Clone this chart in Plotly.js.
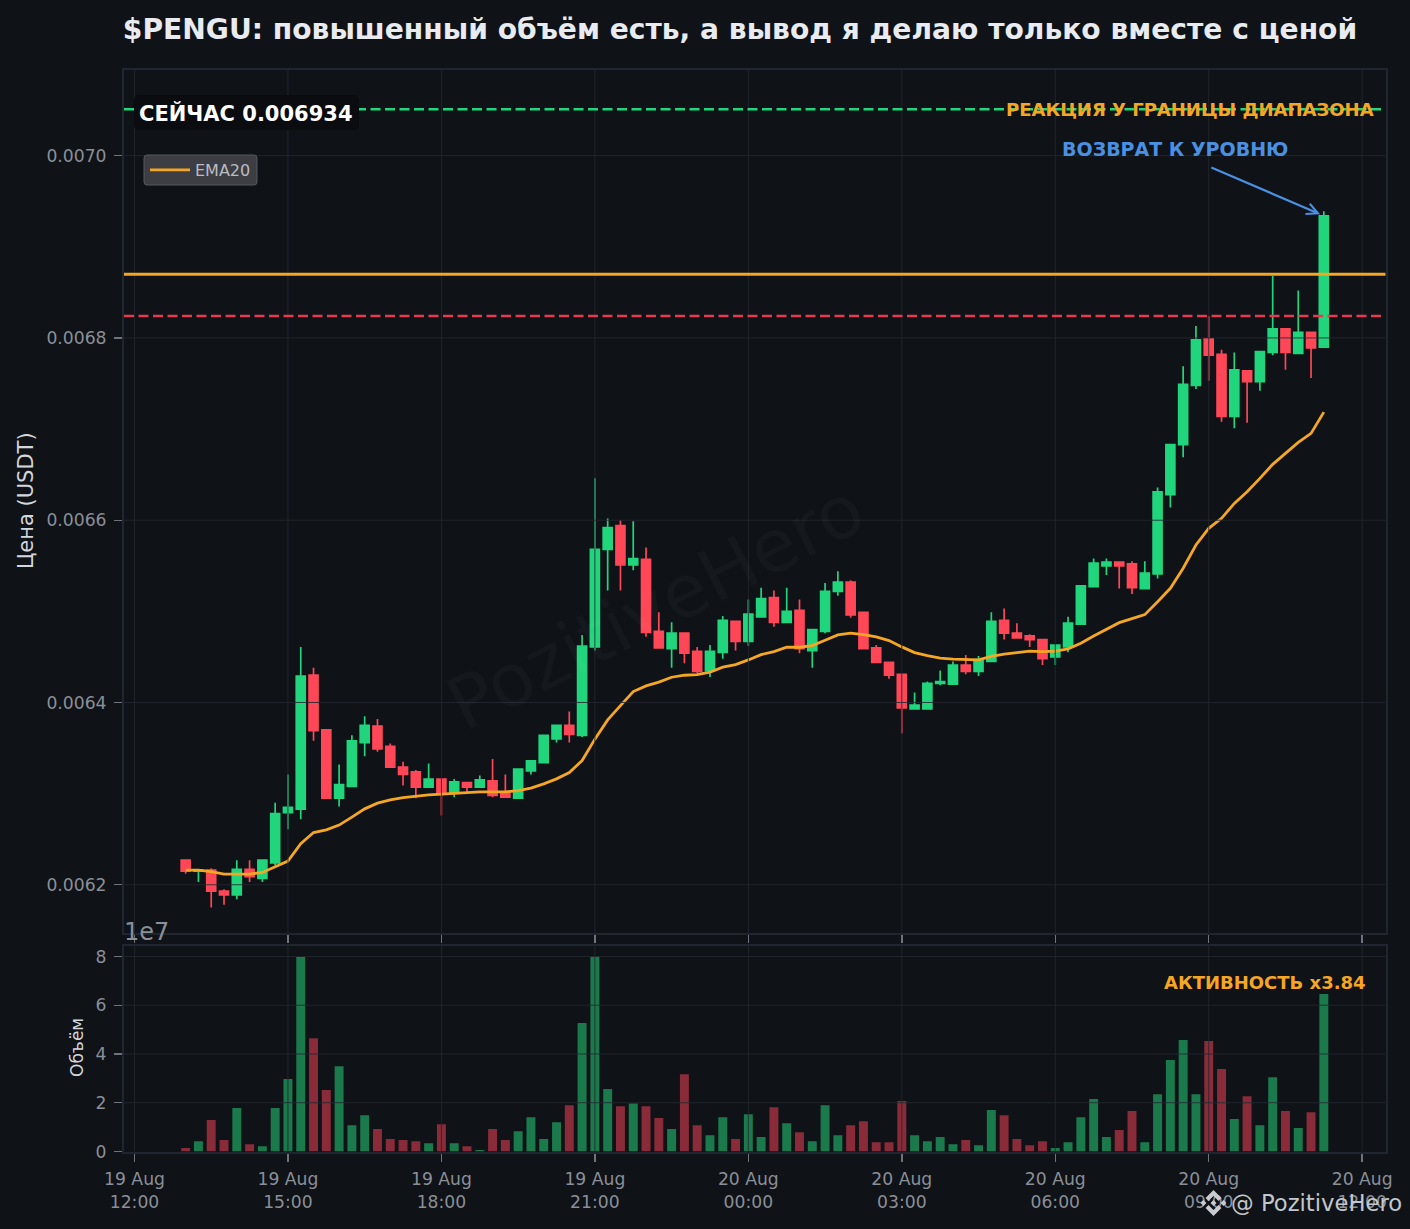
<!DOCTYPE html>
<html>
<head>
<meta charset="utf-8">
<script src="https://cdn.plot.ly/plotly-3.0.1.min.js"></script>
<style>html,body{margin:0;padding:0;background:#0f1217}#chart{width:1410px;height:1229px}</style>
</head>
<body>
<div id="chart"></div>
<script>
const times = ['2025-08-19 13:00','2025-08-19 13:15','2025-08-19 13:30','2025-08-19 13:45','2025-08-19 14:00','2025-08-19 14:15','2025-08-19 14:30','2025-08-19 14:45','2025-08-19 15:00','2025-08-19 15:15','2025-08-19 15:30','2025-08-19 15:45','2025-08-19 16:00','2025-08-19 16:15','2025-08-19 16:30','2025-08-19 16:45','2025-08-19 17:00','2025-08-19 17:15','2025-08-19 17:30','2025-08-19 17:45','2025-08-19 18:00','2025-08-19 18:15','2025-08-19 18:30','2025-08-19 18:45','2025-08-19 19:00','2025-08-19 19:15','2025-08-19 19:30','2025-08-19 19:45','2025-08-19 20:00','2025-08-19 20:15','2025-08-19 20:30','2025-08-19 20:45','2025-08-19 21:00','2025-08-19 21:15','2025-08-19 21:30','2025-08-19 21:45','2025-08-19 22:00','2025-08-19 22:15','2025-08-19 22:30','2025-08-19 22:45','2025-08-19 23:00','2025-08-19 23:15','2025-08-19 23:30','2025-08-19 23:45','2025-08-20 00:00','2025-08-20 00:15','2025-08-20 00:30','2025-08-20 00:45','2025-08-20 01:00','2025-08-20 01:15','2025-08-20 01:30','2025-08-20 01:45','2025-08-20 02:00','2025-08-20 02:15','2025-08-20 02:30','2025-08-20 02:45','2025-08-20 03:00','2025-08-20 03:15','2025-08-20 03:30','2025-08-20 03:45','2025-08-20 04:00','2025-08-20 04:15','2025-08-20 04:30','2025-08-20 04:45','2025-08-20 05:00','2025-08-20 05:15','2025-08-20 05:30','2025-08-20 05:45','2025-08-20 06:00','2025-08-20 06:15','2025-08-20 06:30','2025-08-20 06:45','2025-08-20 07:00','2025-08-20 07:15','2025-08-20 07:30','2025-08-20 07:45','2025-08-20 08:00','2025-08-20 08:15','2025-08-20 08:30','2025-08-20 08:45','2025-08-20 09:00','2025-08-20 09:15','2025-08-20 09:30','2025-08-20 09:45','2025-08-20 10:00','2025-08-20 10:15','2025-08-20 10:30','2025-08-20 10:45','2025-08-20 11:00','2025-08-20 11:15'];

const opens = [0.006227,0.006215,0.006216,0.006193,0.006189,0.006217,0.006207,0.006224,0.006279,0.006283,
0.006430,0.006370,0.006295,0.006308,0.006356,0.006374,0.006352,0.006329,0.006324,0.006307,
0.006316,0.006301,0.006312,0.006307,0.006314,0.006301,0.006295,0.006325,0.006334,0.006360,
0.006375,0.006364,0.006461,0.006568,0.006594,0.006551,0.006557,0.006478,0.006459,0.006476,
0.006456,0.006435,0.006455,0.006489,0.006467,0.006494,0.006515,0.006488,0.006501,0.006457,
0.006478,0.006522,0.006532,0.006499,0.006460,0.006444,0.006431,0.006393,0.006393,0.006421,
0.006420,0.006441,0.006434,0.006445,0.006490,0.006476,0.006473,0.006469,0.006450,0.006461,
0.006486,0.006527,0.006550,0.006554,0.006552,0.006525,0.006541,0.006628,0.006683,0.006748,
0.006799,0.006782,0.006714,0.006764,0.006752,0.006784,0.006810,0.006783,0.006806,0.006790];

const highs = [0.006227,0.006216,0.006218,0.006195,0.006227,0.006227,0.006227,0.006290,0.006321,0.006461,
0.006438,0.006370,0.006332,0.006364,0.006385,0.006382,0.006355,0.006335,0.006326,0.006333,
0.006316,0.006316,0.006312,0.006320,0.006338,0.006321,0.006327,0.006337,0.006364,0.006375,
0.006390,0.006474,0.006646,0.006602,0.006600,0.006599,0.006570,0.006499,0.006488,0.006477,
0.006461,0.006463,0.006495,0.006489,0.006513,0.006526,0.006523,0.006526,0.006513,0.006480,
0.006531,0.006544,0.006534,0.006499,0.006463,0.006444,0.006431,0.006411,0.006423,0.006435,
0.006445,0.006452,0.006451,0.006499,0.006503,0.006487,0.006475,0.006469,0.006463,0.006494,
0.006528,0.006558,0.006558,0.006554,0.006555,0.006555,0.006636,0.006684,0.006769,0.006813,
0.006824,0.006787,0.006784,0.006764,0.006786,0.006868,0.006810,0.006852,0.006807,0.006939];

const lows = [0.006212,0.006203,0.006175,0.006178,0.006184,0.006203,0.006203,0.006221,0.006261,0.006272,
0.006358,0.006295,0.006286,0.006308,0.006341,0.006346,0.006329,0.006309,0.006295,0.006307,
0.006276,0.006296,0.006302,0.006307,0.006296,0.006296,0.006295,0.006321,0.006334,0.006356,
0.006356,0.006362,0.006457,0.006523,0.006523,0.006545,0.006472,0.006460,0.006438,0.006443,
0.006432,0.006428,0.006448,0.006457,0.006462,0.006493,0.006483,0.006488,0.006454,0.006438,
0.006476,0.006517,0.006493,0.006459,0.006444,0.006426,0.006366,0.006392,0.006393,0.006419,
0.006420,0.006431,0.006429,0.006445,0.006469,0.006471,0.006461,0.006441,0.006441,0.006455,
0.006486,0.006527,0.006540,0.006525,0.006519,0.006524,0.006536,0.006614,0.006669,0.006744,
0.006753,0.006708,0.006701,0.006707,0.006742,0.006781,0.006765,0.006782,0.006756,0.006790];

const closes = [0.006215,0.006216,0.006193,0.006189,0.006217,0.006209,0.006227,0.006278,0.006285,0.006429,
0.006369,0.006295,0.006310,0.006358,0.006375,0.006349,0.006329,0.006321,0.006307,0.006316,
0.006301,0.006313,0.006307,0.006315,0.006298,0.006296,0.006327,0.006336,0.006364,0.006375,
0.006365,0.006462,0.006568,0.006592,0.006551,0.006558,0.006477,0.006460,0.006476,0.006454,
0.006434,0.006456,0.006490,0.006467,0.006497,0.006514,0.006488,0.006500,0.006459,0.006480,
0.006522,0.006532,0.006496,0.006459,0.006444,0.006430,0.006394,0.006397,0.006421,0.006423,
0.006441,0.006434,0.006447,0.006489,0.006476,0.006471,0.006469,0.006448,0.006463,0.006487,
0.006528,0.006553,0.006554,0.006550,0.006526,0.006542,0.006631,0.006683,0.006749,0.006798,
0.006781,0.006714,0.006765,0.006752,0.006785,0.006810,0.006784,0.006806,0.006789,0.006934];

const ema20 = [0.0062161,0.0062161,0.0062143,0.0062117,0.0062117,0.0062117,0.0062135,0.0062201,0.0062260,0.0062450,
0.0062573,0.0062603,0.0062655,0.0062742,0.0062833,0.0062896,0.0062932,0.0062957,0.0062973,0.0062987,
0.0062995,0.0063005,0.0063012,0.0063020,0.0063020,0.0063020,0.0063034,0.0063060,0.0063107,0.0063162,
0.0063231,0.0063363,0.0063598,0.0063809,0.0063966,0.0064120,0.0064182,0.0064223,0.0064277,0.0064299,
0.0064306,0.0064332,0.0064387,0.0064416,0.0064467,0.0064525,0.0064558,0.0064606,0.0064606,0.0064624,
0.0064683,0.0064741,0.0064760,0.0064745,0.0064719,0.0064679,0.0064610,0.0064547,0.0064514,0.0064486,
0.0064475,0.0064467,0.0064467,0.0064506,0.0064531,0.0064547,0.0064563,0.0064558,0.0064563,0.0064588,
0.0064650,0.0064730,0.0064804,0.0064876,0.0064920,0.0064964,0.0065106,0.0065253,0.0065473,0.0065728,
0.0065911,0.0066021,0.0066185,0.0066313,0.0066459,0.0066613,0.0066734,0.0066854,0.0066953,0.0067186];

// volume, in units of 1e7
const volumes = [0.14,0.42,1.29,0.47,1.78,0.30,0.22,1.78,2.97,7.98,
4.65,2.52,3.50,1.08,1.49,0.92,0.51,0.47,0.42,0.34,
1.12,0.34,0.22,0.06,0.92,0.47,0.83,1.41,0.51,1.20,
1.90,5.27,8.00,2.56,1.86,1.97,1.86,1.37,0.92,3.17,
1.08,0.67,1.41,0.51,1.53,0.59,1.82,1.16,0.79,0.42,
1.90,0.67,1.08,1.24,0.38,0.38,2.07,0.67,0.42,0.59,
0.30,0.47,0.26,1.70,1.49,0.51,0.26,0.42,0.14,0.38,
1.41,2.15,0.59,0.88,1.66,0.38,2.35,3.75,4.57,2.35,
4.53,3.38,1.33,2.27,1.08,3.05,1.66,0.96,1.61,6.46];

const levelResistance = 0.00687;
const levelSupport = 0.006824;
const levelTarget = 0.007051;

const xTickVals = ['2025-08-19 12:00','2025-08-19 15:00','2025-08-19 18:00','2025-08-19 21:00','2025-08-20 00:00','2025-08-20 03:00','2025-08-20 06:00','2025-08-20 09:00','2025-08-20 12:00'];
const xTickText = ['19 Aug<br>12:00','19 Aug<br>15:00','19 Aug<br>18:00','19 Aug<br>21:00','20 Aug<br>00:00','20 Aug<br>03:00','20 Aug<br>06:00','20 Aug<br>09:00','20 Aug<br>12:00'];
const priceTicks = [0.0062,0.0064,0.0066,0.0068,0.0070];
const priceTickText = ['0.0062','0.0064','0.0066','0.0068','0.0070'];
const volumeTicks = [0,2,4,6,8];

const W = 1410, H = 1229;
const px = v => v / W, py = v => 1 - v / H;
const BG = '#0f1217', GREEN = '#21d57c', RED = '#ff4757', ORANGE = '#f5a623', BLUE = '#4a90e2';
const TICK = '#8a8f98', FRAME = '#20262f', FONT = 'DejaVu Sans';
const GRID = 'rgba(36,40,48,0.85)';

const candle = {
  type: 'candlestick', x: times, open: opens, high: highs, low: lows, close: closes,
  xaxis: 'x', yaxis: 'y', showlegend: false, whiskerwidth: 0,
  increasing: {line: {color: GREEN, width: 1.7}, fillcolor: GREEN},
  decreasing: {line: {color: RED, width: 1.7}, fillcolor: RED}
};
const ema = {
  type: 'scatter', mode: 'lines', x: times, y: ema20, name: 'EMA20',
  xaxis: 'x', yaxis: 'y', line: {color: ORANGE, width: 2.8}
};
const volBars = {
  type: 'bar', x: times, y: volumes, xaxis: 'x2', yaxis: 'y2', showlegend: false,
  width: 630000,
  marker: {color: closes.map((c, i) => c >= opens[i] ? '#1b7a4b' : '#892b38'), line: {width: 0}}
};

const gridShapes = [];
xTickVals.forEach(v => {
  gridShapes.push({type:'line', layer:'above', xref:'x', yref:'y domain', x0:v, x1:v, y0:0, y1:1, line:{color:GRID, width:1}});
  gridShapes.push({type:'line', layer:'above', xref:'x2', yref:'y2 domain', x0:v, x1:v, y0:0, y1:1, line:{color:GRID, width:1}});
});
priceTicks.forEach(v => gridShapes.push({type:'line', layer:'above', xref:'x domain', yref:'y', x0:0, x1:1, y0:v, y1:v, line:{color:GRID, width:1}}));
volumeTicks.slice(1).forEach(v => gridShapes.push({type:'line', layer:'above', xref:'x2 domain', yref:'y2', x0:0, x1:1, y0:v, y1:v, line:{color:GRID, width:1}}));

const levelShapes = [
  {type:'line', layer:'above', xref:'x domain', yref:'y', x0:0, x1:1, y0:levelResistance, y1:levelResistance, line:{color:ORANGE, width:3}},
  {type:'line', layer:'above', xref:'x domain', yref:'y', x0:0, x1:1, y0:levelSupport, y1:levelSupport, line:{color:'#e8394d', width:2.4, dash:'10px,4.5px'}},
  {type:'line', layer:'above', xref:'x domain', yref:'y', x0:0, x1:1, y0:levelTarget, y1:levelTarget, line:{color:GREEN, width:2.4, dash:'10px,4.5px'}}
];

// rounded panel behind a label or the legend, in page pixels
const roundBox = (x0, y0, x1, y1, r, fill, stroke) => ({
  type:'path', layer:'above', xref:'paper', yref:'paper',
  path:`M${px(x0+r)},${py(y0)} L${px(x1-r)},${py(y0)} Q${px(x1)},${py(y0)} ${px(x1)},${py(y0+r)} L${px(x1)},${py(y1-r)} Q${px(x1)},${py(y1)} ${px(x1-r)},${py(y1)} L${px(x0+r)},${py(y1)} Q${px(x0)},${py(y1)} ${px(x0)},${py(y1-r)} L${px(x0)},${py(y0+r)} Q${px(x0)},${py(y0)} ${px(x0+r)},${py(y0)} Z`,
  fillcolor:fill, line:{color:stroke, width:stroke === fill ? 0 : 1}
});
const boxShapes = [
  roundBox(134, 95, 359, 130, 5, '#0a0c0f', '#0a0c0f'),
  roundBox(144, 155, 257, 185, 3, '#3c3e44', '#55585e')
];

const txt = (text, x, y, xanchor, size, color, extra) => Object.assign({
  text, xref:'paper', yref:'paper', x:px(x), y:py(y), xanchor, yanchor:'middle', showarrow:false,
  font:{family:FONT, size, color}
}, extra || {});

const annotations = [
  {text:'PozitiveHero', xref:'paper', yref:'paper', x:px(655), y:py(606), xanchor:'center', yanchor:'middle', showarrow:false, textangle:-27,
   font:{family:FONT, size:73, color:'rgba(255,255,255,0.028)'}},
  txt('<b>СЕЙЧАС 0.006934</b>', 246, 113, 'center', 21, '#ffffff'),
  txt('<b>РЕАКЦИЯ У ГРАНИЦЫ ДИАПАЗОНА</b>', 1376, 109, 'right', 18, ORANGE),
  txt('<b>ВОЗВРАТ К УРОВНЮ</b>', 1174.5, 149, 'center', 19, BLUE),
  {text:'', xref:'x', yref:'y', x:times[89], y:0.006934, axref:'pixel', ayref:'pixel', ax:-114, ay:-49, standoff:4,
   showarrow:true, arrowhead:5, arrowsize:1, arrowwidth:2.2, arrowcolor:BLUE},
  txt('<b>АКТИВНОСТЬ x3.84</b>', 1368, 982.5, 'right', 18, ORANGE),
  txt('1e7', 122, 932, 'left', 24, TICK),
  txt('Цена (USDT)', 26, 501, 'center', 21, '#d3d6db', {textangle:-90}),
  txt('Объём', 77, 1048, 'center', 17, '#d3d6db', {textangle:-90}),
  txt('@ PozitiveHero', 1229, 1203, 'left', 22.7, '#c3c6ca')
];

const logo = "<svg xmlns='http://www.w3.org/2000/svg' viewBox='0 0 126 126'><g fill='#c8cbd0'>" +
  "<path d='M38.7 53L63 28.7 87.4 53l14.1-14.2L63 .3 24.5 38.8z'/>" +
  "<path d='M.3 63l14.2-14.2L28.7 63 14.5 77.2z'/>" +
  "<path d='M38.7 73L63 97.3 87.4 73l14.1 14.1L63 125.7 24.5 87.2z'/>" +
  "<path d='M97.3 63l14.2-14.2L125.7 63l-14.2 14.2z'/>" +
  "<path d='M77.4 63L63 48.6 48.6 63 63 77.4z'/></g></svg>";

const common = {
  showgrid:false, zeroline:false, showline:true, linecolor:FRAME, linewidth:2, mirror:true,
  ticks:'outside', ticklen:8, tickwidth:1.4, tickcolor:'#6e737c', ticklabelstandoff:4,
  tickfont:{family:FONT, size:17.2, color:TICK}
};
const xRange = ['2025-08-19 11:47:42','2025-08-20 12:27:20'];

const layout = {
  width:W, height:H, autosize:false, margin:{l:0,r:0,t:0,b:0},
  paper_bgcolor:BG, plot_bgcolor:BG, dragmode:false,
  title:{text:'<b>$PENGU: повышенный объём есть, а вывод я делаю только вместе с ценой</b>',
    x:px(740), y:py(29), xref:'paper', yref:'paper', xanchor:'center', yanchor:'middle',
    font:{family:FONT, size:28.15, color:'#e8ebf0'}},
  xaxis:Object.assign({}, common, {type:'date', domain:[px(124),px(1385.5)], anchor:'y', range:xRange,
    tickmode:'array', tickvals:xTickVals, ticktext:xTickVals.map(()=>''), rangeslider:{visible:false}}),
  yaxis:Object.assign({}, common, {domain:[py(932.7),py(70)], anchor:'x', range:[0.0061474,0.007094],
    tickmode:'array', tickvals:priceTicks, ticktext:priceTickText}),
  xaxis2:Object.assign({}, common, {type:'date', domain:[px(124),px(1385.5)], anchor:'y2', range:xRange, ticklabelstandoff:3,
    tickmode:'array', tickvals:xTickVals, ticktext:xTickText}),
  yaxis2:Object.assign({}, common, {domain:[py(1151.5),py(945.5)], anchor:'x2', range:[0,8.45],
    tickmode:'array', tickvals:volumeTicks, ticktext:volumeTicks.map(String)}),
  legend:{x:px(145), y:py(153), xanchor:'left', yanchor:'top', bgcolor:'rgba(0,0,0,0)', borderwidth:0, itemwidth:40,
    font:{family:FONT, size:16, color:'#b9bcc2'}},
  boxgap:0.3, boxgroupgap:0,
  shapes:gridShapes.concat(levelShapes, boxShapes),
  annotations,
  images:[{source:'data:image/svg+xml;utf8,' + encodeURIComponent(logo), xref:'paper', yref:'paper',
    x:px(1213.5), y:py(1203), sizex:px(26), sizey:26/H, xanchor:'center', yanchor:'middle', layer:'above', sizing:'contain'}]
};

Plotly.newPlot('chart', [candle, ema, volBars], layout, {displayModeBar:false, staticPlot:true});
</script>
</body>
</html>
